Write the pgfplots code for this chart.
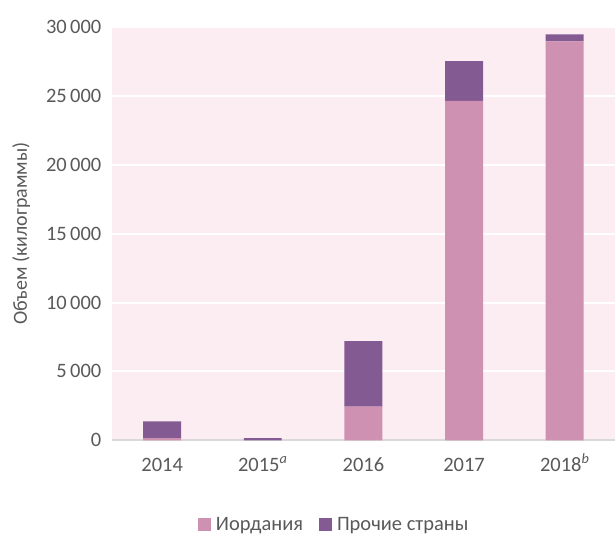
\documentclass[border=0pt]{standalone}
\usepackage{pgfplots}
\pgfplotsset{compat=1.18}
\usepackage{fontspec}
\setmainfont{Carlito}
\definecolor{jordan}{HTML}{CE91B1}
\definecolor{other}{HTML}{835A92}
\definecolor{bgpink}{HTML}{FCEDF2}
\definecolor{txt}{HTML}{595959}
\begin{document}
\begin{tikzpicture}
\begin{axis}[
  scale only axis,
  width=504pt, height=414pt,
  ybar stacked,
  bar width=38pt,
  xmin=-0.5, xmax=4.5,
  ymin=0, ymax=30000,
  xtick=data,
  xticklabels={2014, 2015\textsuperscript{\textit{a}}, 2016, 2017, 2018\textsuperscript{\textit{b}}},
  ytick={0,5000,...,30000},
  /pgf/number format/.cd, 1000 sep={\,}, assume math mode=true, /pgfplots/.cd,
  scaled y ticks=false,
  major tick length=0pt,
  ymajorgrids,
  grid style={white, line width=2pt},
  axis background/.style={fill=bgpink},
  axis x line*=bottom,
  axis y line*=left,
  y axis line style={draw=none},
  x axis line style={draw=black!15, line width=2pt, -},
  tick label style={font=\fontsize{20.5}{24}\selectfont, text=txt},
  xticklabel style={anchor=base, yshift=-31pt},
  yticklabel style={xshift=-7pt},
  ylabel={Объем (килограммы)},
  ylabel style={font=\fontsize{20}{24}\selectfont, text=txt, yshift=9pt},
  clip=false,
  legend style={at={(0.442,-0.203)}, anchor=center, draw=none, fill=none,
    legend columns=2, font=\fontsize{20.5}{24}\selectfont, text=txt,
    /tikz/every even column/.append style={column sep=14pt},
    /tikz/every odd column/.append style={column sep=0pt}},
  legend image code/.code={\fill[#1] (0pt,-6.5pt) rectangle (13pt,6.5pt);},
]
\addplot+[draw=none, fill=jordan] coordinates {(0,150) (1,0) (2,2450) (3,24640) (4,28960)};
\addplot+[draw=none, fill=other] coordinates {(0,1230) (1,150) (2,4750) (3,2880) (4,510)};
\legend{\hspace*{3pt}Иордания, \hspace*{3pt}Прочие страны}
\path[use as bounding box] (rel axis cs:-0.2222,-0.2367) rectangle (rel axis cs:1,1.0652);
\end{axis}
\end{tikzpicture}
\end{document}
